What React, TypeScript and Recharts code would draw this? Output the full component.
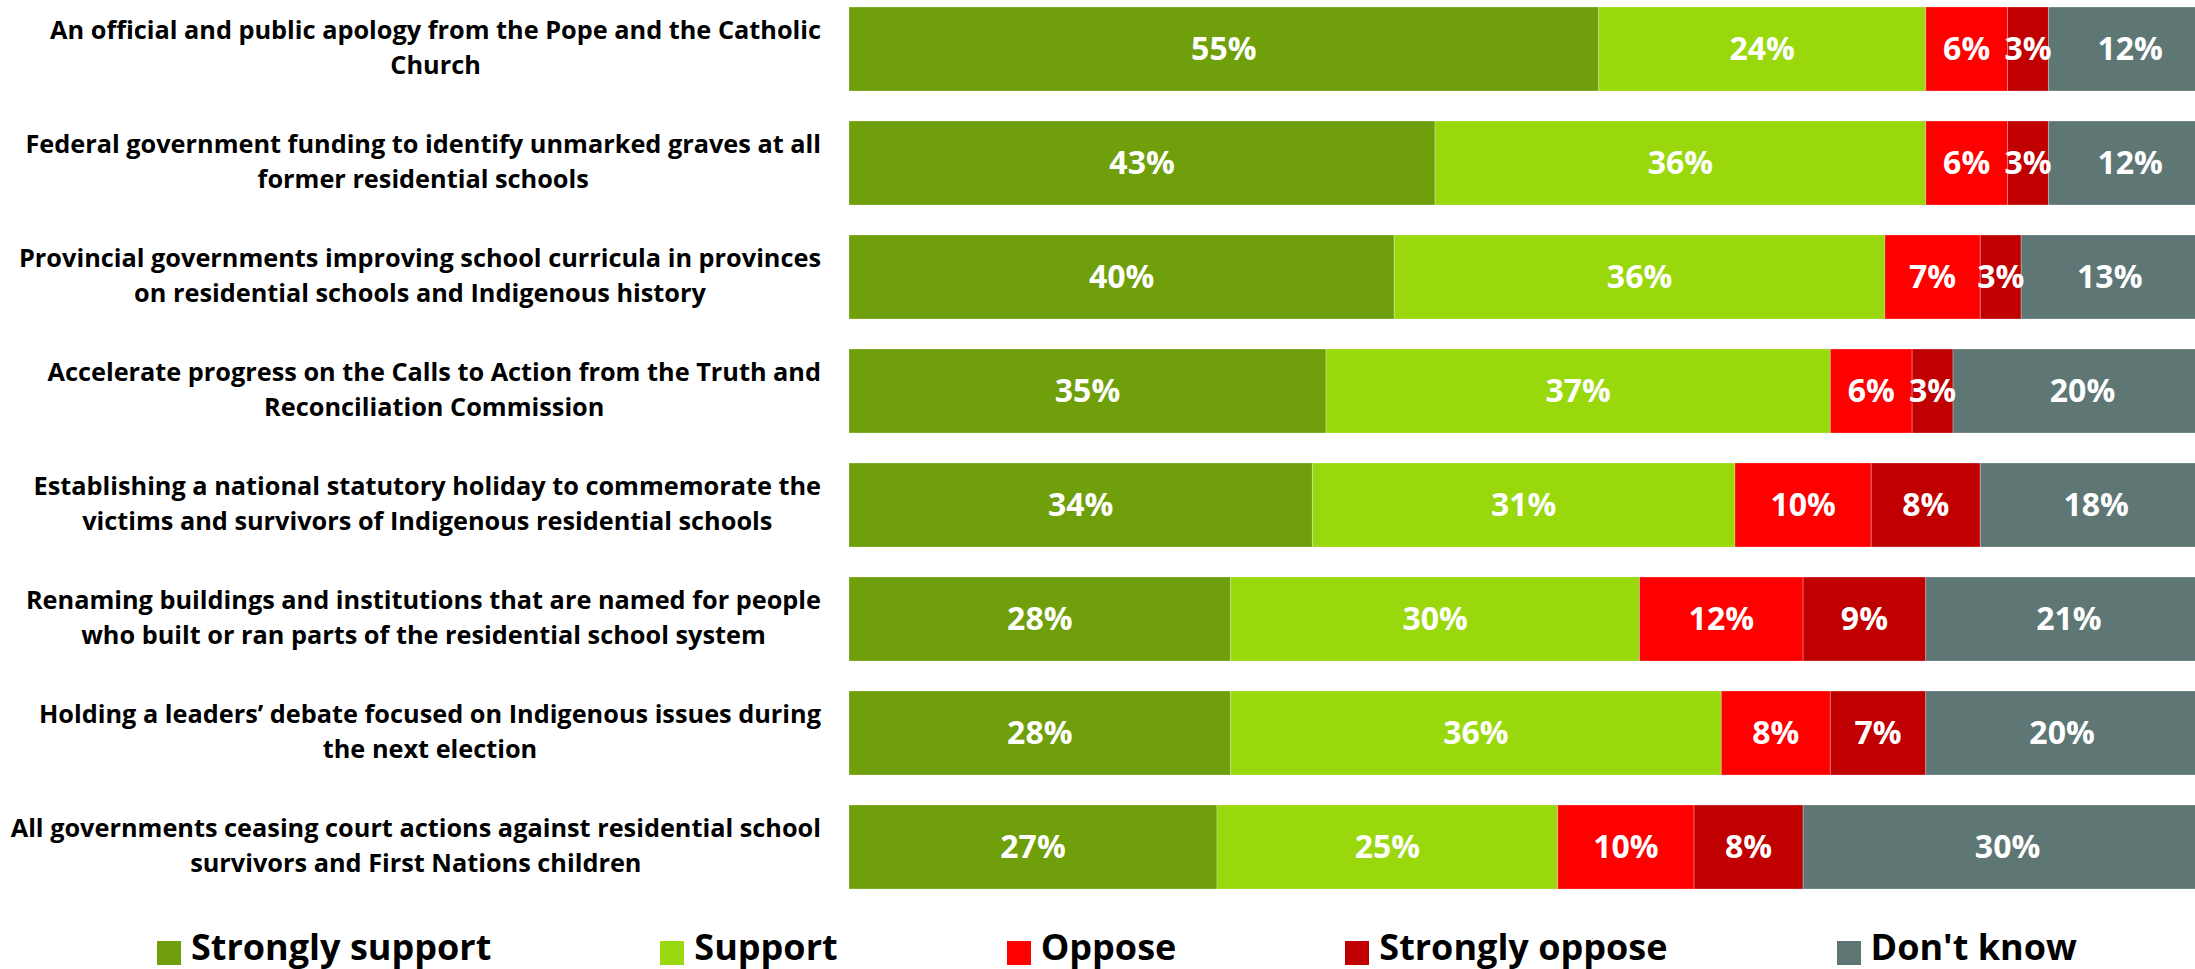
import React from 'react';
import { BarChart, Bar, XAxis, YAxis, LabelList, Legend } from 'recharts';

const categories = [
  'An official and public apology from the Pope and the Catholic\nChurch',
  'Federal government funding to identify unmarked graves at all\nformer residential schools',
  'Provincial governments improving school curricula in provinces\non residential schools and Indigenous history',
  'Accelerate progress on the Calls to Action from the Truth and\nReconciliation Commission',
  'Establishing a national statutory holiday to commemorate the\nvictims and survivors of Indigenous residential schools',
  'Renaming buildings and institutions that are named for people\nwho built or ran parts of the residential school system',
  'Holding a leaders\u2019 debate focused on Indigenous issues during\nthe next election',
  'All governments ceasing court actions against residential school\nsurvivors and First Nations children',
];

const stronglySupport = [55, 43, 40, 35, 34, 28, 28, 27];
const support = [24, 36, 36, 37, 31, 30, 36, 25];
const oppose = [6, 6, 7, 6, 10, 12, 8, 10];
const stronglyOppose = [3, 3, 3, 3, 8, 9, 7, 8];
const dontKnow = [12, 12, 13, 20, 18, 21, 20, 30];

const seriesKeys = ['ss', 's', 'o', 'so', 'dk'];
const seriesNames = ['Strongly support', 'Support', 'Oppose', 'Strongly oppose', "Don't know"];
const seriesColors = ['#6F9F0A', '#98D80C', '#FF0000', '#C00000', '#5F7774'];

const data = categories.map((name, i) => ({
  name,
  ss: stronglySupport[i],
  s: support[i],
  o: oppose[i],
  so: stronglyOppose[i],
  dk: dontKnow[i],
}));

const FONT = "'Open Sans', Lato, 'Noto Sans', sans-serif";
const LABEL_FONT_SIZE = 25.3;
const LABEL_RIGHT = 821;
const LINE_H = 35;

let measureCtx: CanvasRenderingContext2D | null = null;
function measure(text: string, font: string): number {
  if (!measureCtx) {
    const c = document.createElement('canvas');
    measureCtx = c.getContext('2d');
  }
  if (!measureCtx) return text.length * 12;
  measureCtx.font = font;
  return measureCtx.measureText(text).width;
}

const CategoryTick = (props: any) => {
  const { y, payload } = props;
  const lines = String(payload.value).split('\n');
  const w = Math.max(...lines.map((l) => measure(l, `700 ${LABEL_FONT_SIZE}px 'Open Sans'`)));
  const cx = LABEL_RIGHT - w / 2;
  return (
    <text
      textAnchor="middle"
      fontFamily={FONT}
      fontWeight={700}
      fontSize={LABEL_FONT_SIZE}
      fill="#000"
    >
      {lines.map((l, k) => (
        <tspan key={k} x={cx} y={y + 7 + (k - (lines.length - 1) / 2) * LINE_H}>
          {l}
        </tspan>
      ))}
    </text>
  );
};

const LegendContent = () => (
  <div
    style={{
      display: 'flex',
      alignItems: 'flex-start',
      paddingLeft: 157,
      fontFamily: FONT,
      fontWeight: 700,
      fontSize: 36,
      lineHeight: '36px',
      color: '#000',
      whiteSpace: 'nowrap',
    }}
  >
    {seriesNames.map((n, i) => (
      <div key={n} style={{ display: 'flex', alignItems: 'flex-start', marginRight: 169 }}>
        <span
          style={{
            display: 'inline-block',
            width: 24,
            height: 24,
            background: seriesColors[i],
            marginTop: 12,
            marginRight: 10,
          }}
        />
        <span>{n}</span>
      </div>
    ))}
  </div>
);

export default function App() {
  return (
    <div
      style={{
        position: 'absolute',
        left: 0,
        top: 0,
        width: 2195,
        height: 969,
        overflow: 'hidden',
        background: '#fff',
      }}
    >
      <div style={{ position: 'absolute', left: 0, top: -8 }}>
        <BarChart
          width={2212}
          height={980}
          data={data}
          layout="vertical"
          margin={{ top: 0, right: 0, bottom: 68, left: 0 }}
        >
          <XAxis type="number" domain={[0, 100]} allowDataOverflow hide />
          <YAxis
            type="category"
            dataKey="name"
            width={849}
            axisLine={false}
            tickLine={false}
            interval={0}
            tick={(p: any) => <CategoryTick {...p} />}
          />
          <Legend
            layout="horizontal"
            verticalAlign="middle"
            align="center"
            content={() => <LegendContent />}
            wrapperStyle={{ top: 937, left: 0, width: 2195 }}
          />
          {seriesKeys.map((k, i) => (
            <Bar
              key={k}
              dataKey={k}
              name={seriesNames[i]}
              stackId="a"
              fill={seriesColors[i]}
              stroke="rgba(255,255,255,0.25)"
              strokeWidth={1}
              barSize={84}
              isAnimationActive={false}
            >
              <LabelList
                dataKey={k}
                position="center"
                fill="#fff"
                fontSize={32}
                fontWeight={700}
                fontFamily={FONT}
                formatter={(v: any) => `${v}%`}
              />
            </Bar>
          ))}
        </BarChart>
      </div>
    </div>
  );
}
